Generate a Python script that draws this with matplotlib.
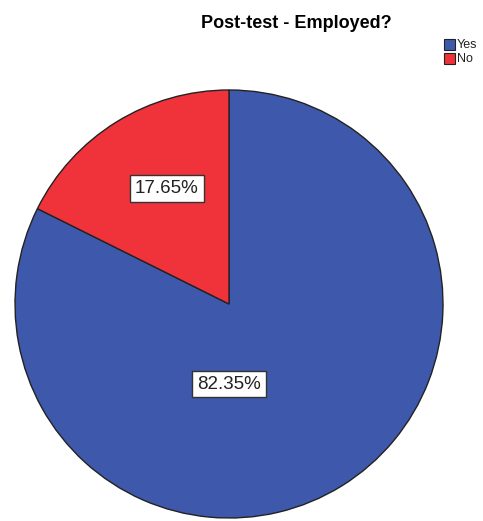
import matplotlib.pyplot as plt
from matplotlib.patches import Rectangle

# employment status after the post-test
labels = ['Yes', 'No']
percents = [82.35, 17.65]
colors = ['#3E58AC', '#F0323B']
# label anchors, in pie radius units (the tool places them off the mid-angle)
label_pos = [(0.0, -0.375), (-0.29, 0.54)]

W, H = 483, 521
fig = plt.figure(figsize=(W / 100, H / 100), dpi=100)

# square axes so the pie fills a fixed pixel box
left, top, size = 15, 90, 428
ax = fig.add_axes([left / W, (H - top - size) / H, size / W, size / H])
ax.pie(percents, colors=colors, startangle=90, counterclock=False,
       radius=1, wedgeprops=dict(edgecolor='#222222', linewidth=1.0))
ax.set_xlim(-1, 1)
ax.set_ylim(-1, 1)
ax.set_aspect('auto')
ax.axis('off')

sans = ['Liberation Sans', 'DejaVu Sans']
for (x, y), p in zip(label_pos, percents):
    ax.text(x, y, f'{p:.2f}%', ha='center', va='center', fontsize=13.5,
            family=sans, color='#222222',
            bbox=dict(boxstyle='square,pad=0.25', fc='white', ec='#333333', lw=1.0))

fig.text(296 / W, 1 - 23 / H, 'Post-test - Employed?', ha='center', va='center',
         fontsize=13, fontweight='bold', family=sans)

# small legend in the top-right corner
for i, (lab, c) in enumerate(zip(labels, colors)):
    y = 39 + i * 14
    fig.patches.append(Rectangle((444 / W, 1 - (y + 11) / H), 11 / W, 11 / H,
                                 transform=fig.transFigure, fc=c, ec='#222222', lw=0.8))
    fig.text(457 / W, 1 - (y + 6) / H, lab, ha='left', va='center', fontsize=9,
             family=sans, color='#222222')

fig.savefig('out.png', dpi=100, facecolor='white')
